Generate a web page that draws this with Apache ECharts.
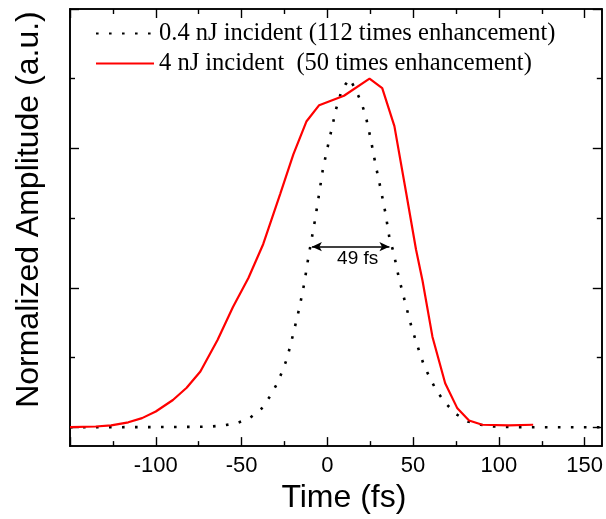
<!DOCTYPE html>
<html>
<head>
<meta charset="utf-8">
<script src="https://cdn.jsdelivr.net/npm/echarts@6/dist/echarts.min.js"></script>
<style>html,body{margin:0;padding:0;background:#fff;}#c{width:606px;height:519px;}</style>
</head>
<body>
<div id="c"></div>
<script>
// ---- data ----
const seriesNames = ['0.4 nJ incident (112 times enhancement)', '4 nJ incident  (50 times enhancement)'];
const dotT = [-150, -120, -90, -75, -67.5, -60.4, -53, -45.5, -38.4, -33.3, -29.3, -26.2, -23.5, -19.8, -16.3, -13.4, -11.1, -7.2, -4.9, -2.6, 0.9, 3.2, 4.9, 7.8, 10.5, 13, 15.9, 19.4, 22.3, 25.2, 28.1, 31, 33.9, 36.2, 38.5, 41.6, 45.3, 49.1, 53.8, 56.3, 59.6, 63.4, 68.5, 74.9, 82, 89.3, 96.6, 110, 130, 160];
const dotA = [0, 0, 0.0005, 0.001, 0.002, 0.005, 0.011, 0.025, 0.053, 0.089, 0.125, 0.161, 0.197, 0.269, 0.342, 0.414, 0.486, 0.594, 0.666, 0.74, 0.82, 0.87, 0.91, 0.957, 0.983, 1.0, 0.974, 0.937, 0.895, 0.829, 0.754, 0.686, 0.614, 0.543, 0.504, 0.431, 0.359, 0.287, 0.214, 0.178, 0.143, 0.107, 0.071, 0.038, 0.016, 0.007, 0.002, 0, 0, 0];
const redT = [-150, -135, -126, -116, -108, -100, -90, -82, -74, -64, -55, -46, -37.4, -27.5, -19.8, -12.1, -4.75, 9.7, 24.6, 32, 39.1, 45.9, 51.7, 55.5, 61.3, 68.7, 75.8, 82.6, 90.3, 105.7, 120];
const redA = [0, 0.002, 0.005, 0.014, 0.026, 0.045, 0.078, 0.113, 0.16, 0.25, 0.345, 0.428, 0.525, 0.669, 0.783, 0.878, 0.924, 0.951, 1.0, 0.973, 0.864, 0.674, 0.51, 0.42, 0.259, 0.126, 0.054, 0.019, 0.007, 0.005, 0.007];
const fwhmStart = [-9.0, 0.518];
const fwhmEnd = [36.2, 0.518];
const fwhmLabel = '49 fs';
const xMajorTicks = [-150, -100, -50, 0, 50, 100, 150];
const xMinorTicks = [-125, -75, -25, 25, 75, 125];
const xLabels = [-100, -50, 0, 50, 100, 150];
const yMajorTicks = [0, 0.4, 0.8, 1.2];
const yMinorTicks = [0.2, 0.6, 1.0];
const xRange = [-150, 160];
const yRange = [-0.0543, 1.2];
const xTitle = 'Time (fs)';
const yTitle = 'Normalized Amplitude (a.u.)';

const dotData = dotT.map((t, i) => [t, dotA[i]]);
const redData = redT.map((t, i) => [t, redA[i]]);

const axisLine = {show: true, onZero: false, lineStyle: {color: '#000', width: 1.6}};
function xAx(pos, ticks, len, labels, name) {
  return {
    type: 'value', position: pos, min: xRange[0], max: xRange[1],
    axisLine: axisLine,
    axisTick: {show: true, inside: true, length: len, customValues: ticks, lineStyle: {color: '#000', width: 1.4}},
    axisLabel: labels ? {show: true, customValues: labels, color: '#000', fontSize: 22, fontFamily: 'Liberation Sans, Arial', margin: 9} : {show: false},
    splitLine: {show: false},
    name: name || '', nameLocation: 'middle', nameGap: 27,
    nameTextStyle: {color: '#000', fontSize: 32, fontFamily: 'Liberation Sans, Arial', padding: [0, 0, 0, 16]}
  };
}
function yAx(pos, ticks, len, name) {
  return {
    type: 'value', position: pos, min: yRange[0], max: yRange[1],
    axisLine: axisLine,
    axisTick: {show: true, inside: true, length: len, customValues: ticks, lineStyle: {color: '#000', width: 1.4}},
    axisLabel: {show: false},
    splitLine: {show: false},
    name: name || '', nameLocation: 'middle', nameGap: 25,
    nameTextStyle: {color: '#000', fontSize: 32, fontFamily: 'Liberation Sans, Arial', padding: [0, 0, 0, 36]}
  };
}

const chart = echarts.init(document.getElementById('c'), null, {renderer: 'canvas'});
chart.setOption({
  backgroundColor: '#fff',
  animation: false,
  grid: {left: 70, right: 2, top: 9, bottom: 71, containLabel: false},
  legend: {
    orient: 'vertical', left: 90, top: 16, itemWidth: 58, itemHeight: 14, itemGap: 5,
    data: seriesNames,
    itemStyle: {opacity: 0},
    textStyle: {color: '#000', fontSize: 24.5, lineHeight: 24, fontFamily: 'Liberation Serif, Times New Roman'},
    selectedMode: false
  },
  xAxis: [
    xAx('bottom', xMajorTicks, 9, xLabels, xTitle),
    xAx('bottom', xMinorTicks, 5, null),
    xAx('top', xMajorTicks, 9, null),
    xAx('top', xMinorTicks, 5, null)
  ],
  yAxis: [
    yAx('left', yMajorTicks, 9, yTitle),
    yAx('left', yMinorTicks, 5),
    yAx('right', yMajorTicks, 9),
    yAx('right', yMinorTicks, 5)
  ],
  series: [
    {
      name: seriesNames[0], type: 'line', data: dotData, symbol: 'none',
      xAxisIndex: 0, yAxisIndex: 0,
      lineStyle: {color: '#000', width: 2.6, type: [2.6, 10.4], cap: 'butt'},
      itemStyle: {color: '#000'},
      markLine: {
        silent: true, symbol: ['arrow', 'arrow'], symbolSize: [7, 10],
        lineStyle: {color: '#000', type: 'solid', width: 1.5},
        label: {show: true, formatter: fwhmLabel, position: 'insideMiddleBottom', color: '#000', fontSize: 19, fontFamily: 'Liberation Sans, Arial', padding: [0, 0, 0, 14], distance: 3},
        data: [[{coord: fwhmStart}, {coord: fwhmEnd}]]
      }
    },
    {
      name: seriesNames[1], type: 'line', data: redData, symbol: 'none',
      xAxisIndex: 0, yAxisIndex: 0,
      lineStyle: {color: '#ff0000', width: 2.2},
      itemStyle: {color: '#ff0000'}
    }
  ]
});
</script>
</body>
</html>
